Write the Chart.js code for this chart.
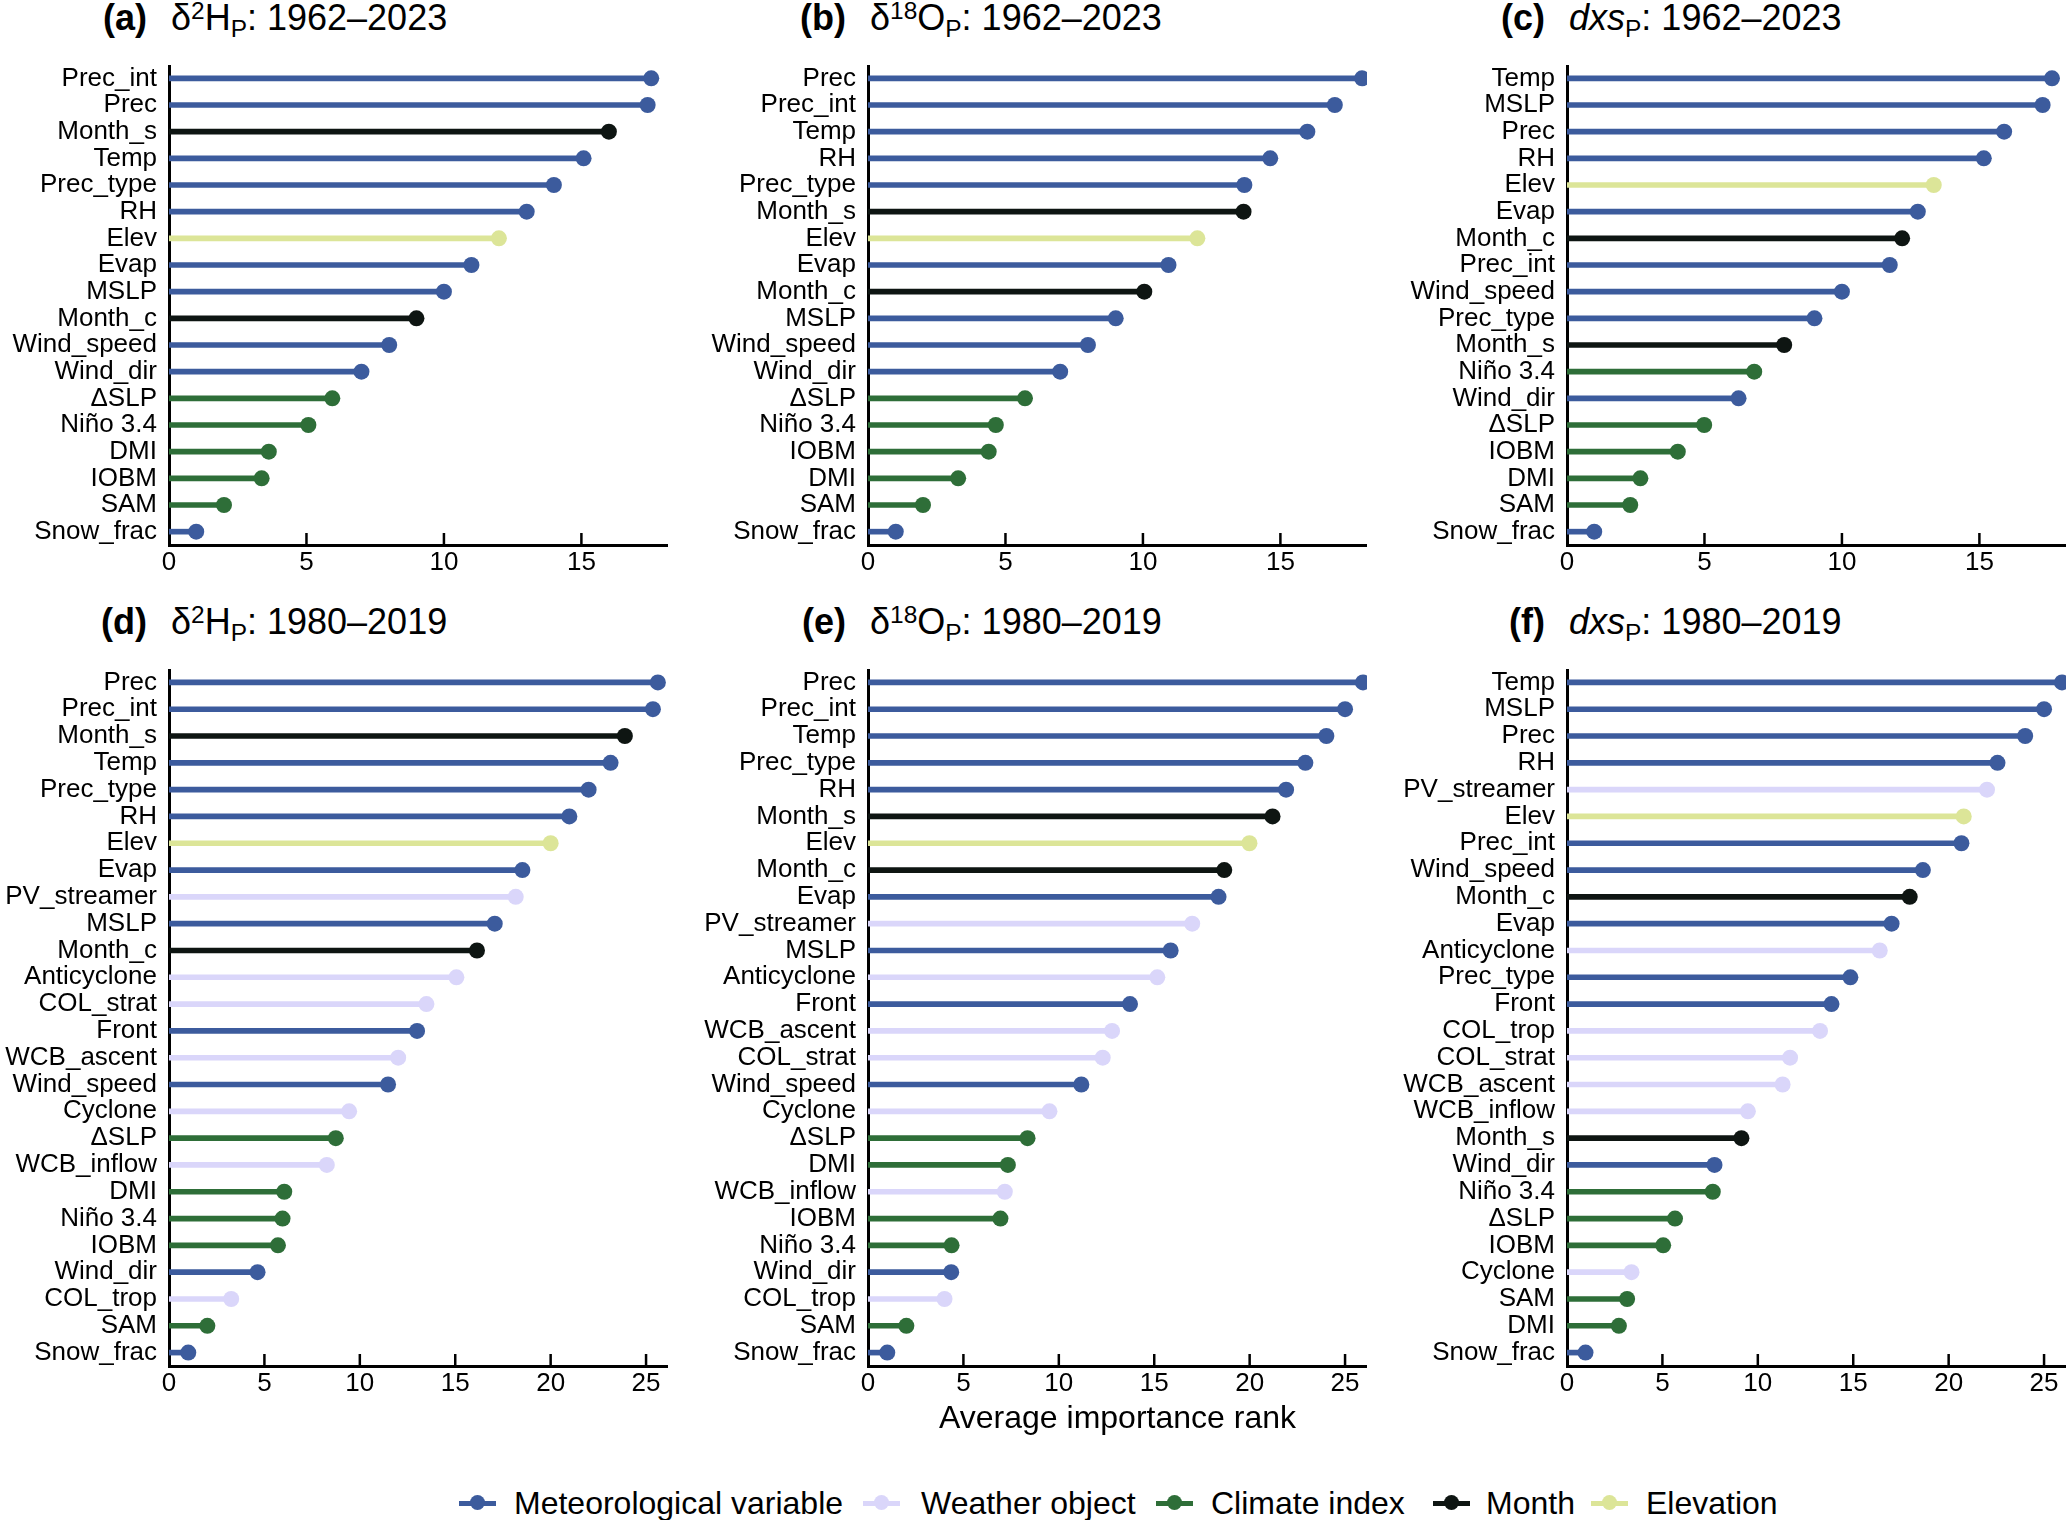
<!DOCTYPE html>
<html>
<head>
<meta charset="utf-8">
<script src="https://cdn.jsdelivr.net/npm/chart.js@4.4.1/dist/chart.umd.min.js"></script>
<style>
  html, body { margin:0; padding:0; background:#fff; }
  body { width:2067px; height:1520px; position:relative; overflow:hidden; font-family:"Liberation Sans", Arial, Helvetica, sans-serif; color:#000; }
  canvas { position:absolute; }
  .ttl { position:absolute; font-size:36px; line-height:40px; white-space:nowrap; }
  .ttl .lt { position:absolute; right:calc(100% + 24px); top:0; font-weight:bold; }
  .ttl sup { font-size:0.68em; vertical-align:0.45em; line-height:0; }
  .ttl sub { font-size:0.68em; vertical-align:-0.28em; line-height:0; }
  .xt { position:absolute; font-size:32px; line-height:36px; white-space:nowrap; transform:translateX(-50%); }
  .lgm { position:absolute; top:1495px; width:37px; height:16px; }
  .lgm .ln { position:absolute; left:0; right:0; top:5.5px; height:5px; }
  .lgm .dt { position:absolute; left:11px; top:0; width:15px; height:15px; border-radius:50%; }
  .lgt { position:absolute; top:1484px; font-size:32px; line-height:38px; white-space:nowrap; }
</style>
</head>
<body>
<script>
// ---------------- data ----------------
const groupMet = ["Prec","Prec_int","Temp","Prec_type","RH","Evap","MSLP","Wind_speed","Wind_dir","Snow_frac","Front"];
const groupWeather = ["PV_streamer","Anticyclone","COL_strat","COL_trop","WCB_ascent","WCB_inflow","Cyclone"];
const groupClimate = ["ΔSLP","Niño 3.4","DMI","IOBM","SAM"];
const groupMonth = ["Month_s","Month_c"];
const groupElev = ["Elev"];

const legendNames = ["Meteorological variable","Weather object","Climate index","Month","Elevation"];

const aLabels = ["Prec_int","Prec","Month_s","Temp","Prec_type","RH","Elev","Evap","MSLP","Month_c","Wind_speed","Wind_dir","ΔSLP","Niño 3.4","DMI","IOBM","SAM","Snow_frac"];
const aValues = [17.54,17.41,16.0,15.08,14.0,13.01,12.0,11.0,10.0,9.0,8.01,7.0,5.94,5.07,3.63,3.37,2.0,0.99];

const bLabels = ["Prec","Prec_int","Temp","RH","Prec_type","Month_s","Elev","Evap","Month_c","MSLP","Wind_speed","Wind_dir","ΔSLP","Niño 3.4","IOBM","DMI","SAM","Snow_frac"];
const bValues = [17.97,16.98,15.98,14.63,13.69,13.66,11.98,10.93,10.05,9.01,8.0,6.99,5.71,4.65,4.39,3.28,2.0,1.01];

const cLabels = ["Temp","MSLP","Prec","RH","Elev","Evap","Month_c","Prec_int","Wind_speed","Prec_type","Month_s","Niño 3.4","Wind_dir","ΔSLP","IOBM","DMI","SAM","Snow_frac"];
const cValues = [17.64,17.30,15.90,15.16,13.34,12.76,12.19,11.74,10.0,9.0,7.90,6.81,6.24,4.99,4.03,2.67,2.30,0.99];

const dLabels = ["Prec","Prec_int","Month_s","Temp","Prec_type","RH","Elev","Evap","PV_streamer","MSLP","Month_c","Anticyclone","COL_strat","Front","WCB_ascent","Wind_speed","Cyclone","ΔSLP","WCB_inflow","DMI","Niño 3.4","IOBM","Wind_dir","COL_trop","SAM","Snow_frac"];
const dValues = [25.62,25.36,23.89,23.14,21.99,20.98,20.0,18.52,18.17,17.07,16.14,15.06,13.49,13.0,12.01,11.48,9.44,8.74,8.27,6.04,5.95,5.71,4.64,3.26,2.01,1.01];

const eLabels = ["Prec","Prec_int","Temp","Prec_type","RH","Month_s","Elev","Month_c","Evap","PV_streamer","MSLP","Anticyclone","Front","WCB_ascent","COL_strat","Wind_speed","Cyclone","ΔSLP","DMI","WCB_inflow","IOBM","Niño 3.4","Wind_dir","COL_trop","SAM","Snow_frac"];
const eValues = [25.94,25.0,24.02,22.92,21.91,21.2,19.99,18.67,18.37,16.99,15.86,15.16,13.73,12.79,12.30,11.18,9.51,8.36,7.33,7.17,6.94,4.38,4.36,4.01,2.01,1.01];

const fLabels = ["Temp","MSLP","Prec","RH","PV_streamer","Elev","Prec_int","Wind_speed","Month_c","Evap","Anticyclone","Prec_type","Front","COL_trop","COL_strat","WCB_ascent","WCB_inflow","Month_s","Wind_dir","Niño 3.4","ΔSLP","IOBM","Cyclone","SAM","DMI","Snow_frac"];
const fValues = [25.94,25.0,24.01,22.56,22.01,20.79,20.67,18.65,17.96,17.01,16.39,14.85,13.86,13.26,11.69,11.30,9.48,9.14,7.73,7.64,5.66,5.04,3.38,3.15,2.72,0.97];

const xTicksTop = [0,5,10,15];
const xTicksBottom = [0,5,10,15,20,25];
const xMaxTop = 18.15;
const xMaxBottom = 26.15;

// ---------------- styling ----------------
const COLORS = {
  met: "#3c5b9d",
  weather: "#dad6fa",
  climate: "#2e6e38",
  month: "#0e1512",
  elev: "#dce598"
};
const legendColors = [COLORS.met, COLORS.weather, COLORS.climate, COLORS.month, COLORS.elev];
const legendMarkX = [459, 863, 1156, 1433, 1591];
const legendTextX = [514, 921, 1211, 1486, 1646];

function colorFor(name) {
  if (groupMet.includes(name)) return COLORS.met;
  if (groupWeather.includes(name)) return COLORS.weather;
  if (groupClimate.includes(name)) return COLORS.climate;
  if (groupMonth.includes(name)) return COLORS.month;
  if (groupElev.includes(name)) return COLORS.elev;
  return "#888";
}

const FONT = '"Liberation Sans", Arial, Helvetica, sans-serif';
Chart.defaults.font.family = FONT;
Chart.defaults.color = "#000";

const LW = 168;        // y-label area width
const PW = 499;        // plot width
const XH = 50;         // x-axis area height
const colX = [169, 868, 1567];
const rowTop = [65, 669];
const rowH = [480, 697];

const inwardTicks = {
  id: "inwardTicks",
  afterDatasetsDraw(chart, args, opts) {
    const xs = chart.scales.x, ctx = chart.ctx, bottom = chart.chartArea.bottom;
    ctx.save();
    ctx.strokeStyle = "#000";
    ctx.lineWidth = 2.5;
    opts.values.forEach(v => {
      if (v === 0) return;
      const px = xs.getPixelForValue(v);
      ctx.beginPath();
      ctx.moveTo(px, bottom);
      ctx.lineTo(px, bottom - 12);
      ctx.stroke();
    });
    ctx.restore();
  }
};

function makePanel(labels, values, col, row, tickVals, xmax) {
  const cv = document.createElement("canvas");
  const w = LW + PW, h = rowH[row] + XH;
  cv.width = w; cv.height = h;
  cv.style.left = (colX[col] - LW) + "px";
  cv.style.top = rowTop[row] + "px";
  cv.style.width = w + "px"; cv.style.height = h + "px";
  document.body.appendChild(cv);
  const cols = labels.map(colorFor);
  new Chart(cv, {
    type: "bar",
    data: {
      labels: labels,
      datasets: [
        {
          type: "line",
          indexAxis: "y",
          data: values,
          showLine: false,
          pointRadius: 8,
          pointHoverRadius: 8,
          pointBorderWidth: 0,
          pointBackgroundColor: cols,
          pointBorderColor: cols,
          order: 0
        },
        {
          type: "bar",
          data: values,
          backgroundColor: cols,
          borderWidth: 0,
          barThickness: 5,
          order: 1
        }
      ]
    },
    options: {
      indexAxis: "y",
      responsive: false,
      animation: false,
      devicePixelRatio: 1,
      layout: { padding: 0, autoPadding: false },
      plugins: {
        legend: { display: false },
        tooltip: { enabled: false },
        title: { display: false },
        inwardTicks: { values: tickVals }
      },
      scales: {
        x: {
          type: "linear",
          min: 0,
          max: xmax,
          afterFit: s => { s.height = XH; s.paddingLeft = 0; s.paddingRight = 0; },
          afterBuildTicks: s => { s.ticks = tickVals.map(v => ({ value: v })); },
          ticks: { font: { size: 26 }, color: "#000", padding: 2, includeBounds: false, maxRotation: 0, autoSkip: false },
          grid: { display: false, drawTicks: false },
          border: { display: true, color: "#000", width: 3 }
        },
        y: {
          type: "category",
          offset: true,
          afterFit: s => { s.width = LW; s.paddingTop = 0; s.paddingBottom = 0; },
          ticks: { font: { size: 26 }, color: "#000", padding: 12, autoSkip: false },
          grid: { display: false, drawTicks: false },
          border: { display: true, color: "#000", width: 3 }
        }
      }
    },
    plugins: [inwardTicks]
  });
}

makePanel(aLabels, aValues, 0, 0, xTicksTop, xMaxTop);
makePanel(bLabels, bValues, 1, 0, xTicksTop, xMaxTop);
makePanel(cLabels, cValues, 2, 0, xTicksTop, xMaxTop);
makePanel(dLabels, dValues, 0, 1, xTicksBottom, xMaxBottom);
makePanel(eLabels, eValues, 1, 1, xTicksBottom, xMaxBottom);
makePanel(fLabels, fValues, 2, 1, xTicksBottom, xMaxBottom);

// ---------------- titles ----------------
const titles = [
  { col:0, row:0, lt:"(a)", html:"δ<sup>2</sup>H<sub>P</sub>: 1962–2023" },
  { col:1, row:0, lt:"(b)", html:"δ<sup>18</sup>O<sub>P</sub>: 1962–2023" },
  { col:2, row:0, lt:"(c)", html:"<i>dxs</i><sub>P</sub>: 1962–2023" },
  { col:0, row:1, lt:"(d)", html:"δ<sup>2</sup>H<sub>P</sub>: 1980–2019" },
  { col:1, row:1, lt:"(e)", html:"δ<sup>18</sup>O<sub>P</sub>: 1980–2019" },
  { col:2, row:1, lt:"(f)", html:"<i>dxs</i><sub>P</sub>: 1980–2019" }
];
const titleTop = [-2, 602];
titles.forEach(t => {
  const d = document.createElement("div");
  d.className = "ttl";
  d.style.left = (colX[t.col] + 2) + "px";
  d.style.top = titleTop[t.row] + "px";
  d.innerHTML = '<span class="lt">' + t.lt + '</span>' + t.html;
  document.body.appendChild(d);
});

// x-axis title
const xt = document.createElement("div");
xt.className = "xt";
xt.style.left = (colX[1] + PW / 2) + "px";
xt.style.top = "1399px";
xt.textContent = "Average importance rank";
document.body.appendChild(xt);

// legend
legendNames.forEach((n, i) => {
  const m = document.createElement("div");
  m.className = "lgm";
  m.style.left = legendMarkX[i] + "px";
  m.innerHTML = '<div class="ln" style="background:' + legendColors[i] + '"></div><div class="dt" style="background:' + legendColors[i] + '"></div>';
  document.body.appendChild(m);
  const t = document.createElement("div");
  t.className = "lgt";
  t.style.left = legendTextX[i] + "px";
  t.textContent = n;
  document.body.appendChild(t);
});
</script>
</body>
</html>
